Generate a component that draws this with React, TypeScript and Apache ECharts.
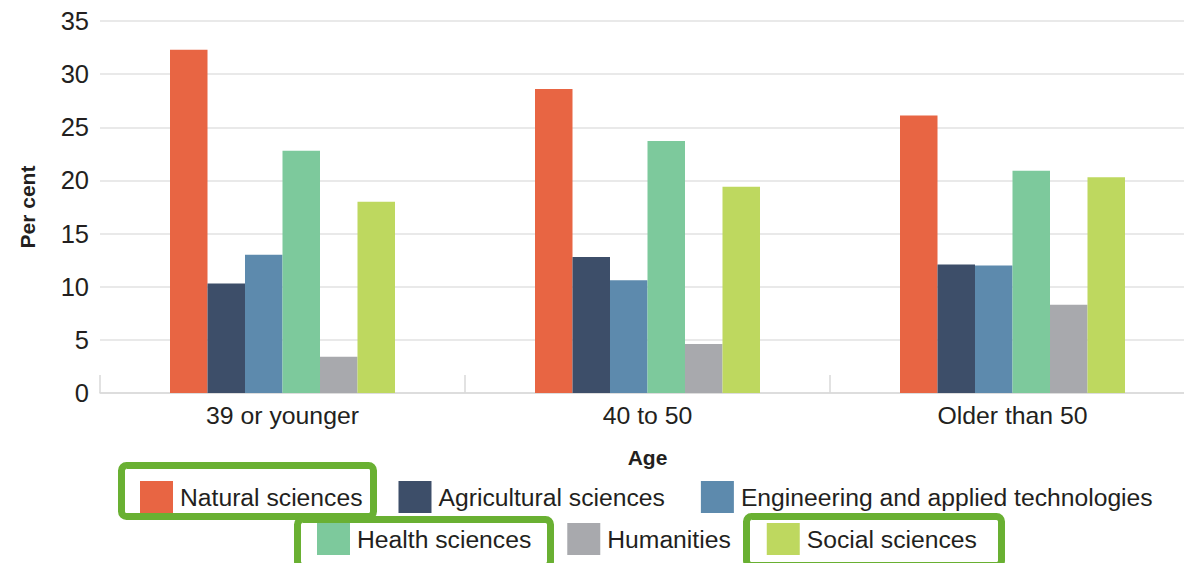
import React, { useEffect, useRef } from "react";
import * as echarts from "echarts";

const categories = ["39 or younger", "40 to 50", "Older than 50"];
const seriesNames = [
  "Natural sciences",
  "Agricultural sciences",
  "Engineering and applied technologies",
  "Health sciences",
  "Humanities",
  "Social sciences",
];
const naturalSciences = [32.3, 28.6, 26.1];
const agriculturalSciences = [10.3, 12.8, 12.1];
const engineering = [13.0, 10.6, 12.0];
const healthSciences = [22.8, 23.7, 20.9];
const humanities = [3.4, 4.6, 8.3];
const socialSciences = [18.0, 19.4, 20.3];
const colors = ["#e86543", "#3d4e69", "#5d8aad", "#7dc99c", "#a8a9ad", "#bed85f"];
const legendRow1 = [seriesNames[0], seriesNames[1], seriesNames[2]];
const legendRow2 = [seriesNames[3], seriesNames[4], seriesNames[5]];

const FONT = "Liberation Sans";
const TEXT = "#231f20";
const GREEN = "#69b032";

export default function App() {
  const ref = useRef<HTMLDivElement>(null);
  useEffect(() => {
    if (!ref.current) return;
    const chart = echarts.init(ref.current, undefined, { renderer: "svg" });
    const values = [naturalSciences, agriculturalSciences, engineering, healthSciences, humanities, socialSciences];
    const legendCommon = {
      orient: "horizontal",
      itemWidth: 33,
      itemHeight: 32,
      itemGap: 36,
      padding: 0,
      icon: "rect",
      textStyle: { fontFamily: FONT, fontSize: 24.7, color: TEXT, padding: [0, 0, 0, 2] },
    };
    chart.setOption({
      animation: false,
      textStyle: { fontFamily: FONT },
      color: colors,
      grid: { left: 100, top: 21, width: 1095, height: 372, outerBoundsMode: "none", containLabel: false },
      legend: [
        { ...legendCommon, data: legendRow1, left: 140, top: 481 },
        { ...legendCommon, data: legendRow2, left: 317, top: 523 },
      ],
      xAxis: {
        type: "category",
        data: categories,
        name: "Age",
        nameLocation: "middle",
        nameGap: 54,
        nameTextStyle: { fontFamily: FONT, fontSize: 21, fontWeight: "bold", color: TEXT },
        axisLine: { lineStyle: { color: "#d9d9d9", width: 1.5 } },
        axisTick: { show: true, inside: true, length: 18, lineStyle: { color: "#d9d9d9", width: 1.5 } },
        axisLabel: { fontFamily: FONT, fontSize: 24.8, color: TEXT, margin: 10 },
      },
      yAxis: {
        type: "value",
        min: 0,
        max: 35,
        interval: 5,
        name: "Per cent",
        nameLocation: "middle",
        nameRotate: 90,
        nameGap: 62,
        nameTextStyle: { fontFamily: FONT, fontSize: 21, fontWeight: "bold", color: TEXT },
        axisLine: { show: false },
        axisTick: { show: false },
        axisLabel: { fontFamily: FONT, fontSize: 25.5, color: TEXT, margin: 11 },
        splitLine: { lineStyle: { color: "#e2e2e2", width: 1.5 } },
      },
      series: seriesNames.map((name, i) => ({
        name,
        type: "bar",
        data: values[i],
        barWidth: 37.5,
        barGap: "0%",
        itemStyle: { color: colors[i] },
      })),
      graphic: [
        {
          type: "rect",
          shape: { x: 121.5, y: 465.5, width: 252, height: 51, r: 5 },
          style: { fill: "none", stroke: GREEN, lineWidth: 7 },
          z: 100,
        },
        {
          type: "rect",
          shape: { x: 297.5, y: 519.5, width: 253, height: 47, r: 5 },
          style: { fill: "none", stroke: GREEN, lineWidth: 7 },
          z: 100,
        },
        {
          type: "rect",
          shape: { x: 746.5, y: 516.5, width: 255, height: 49, r: 5 },
          style: { fill: "none", stroke: GREEN, lineWidth: 7 },
          z: 100,
        },
      ],
    });
    return () => chart.dispose();
  }, []);
  return (
    <div
      ref={ref}
      style={{ position: "absolute", left: 0, top: 0, width: 1184, height: 563, background: "#fff" }}
    />
  );
}
